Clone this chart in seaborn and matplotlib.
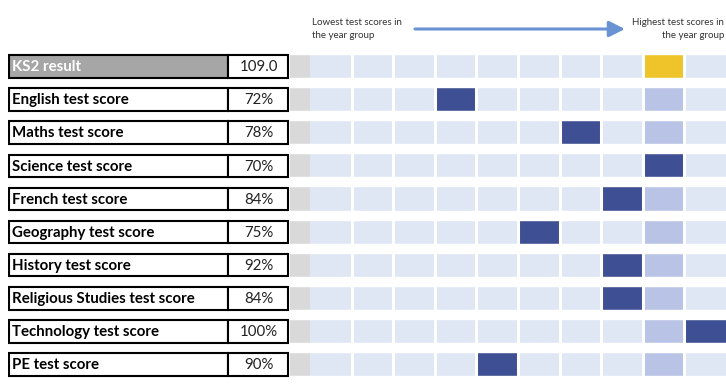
import numpy as np
import pandas as pd
import matplotlib
matplotlib.use('Agg')
import matplotlib.pyplot as plt
import seaborn as sns
from matplotlib.colors import ListedColormap
from matplotlib.patches import Rectangle

# Datos
etiquetas = ['KS2 result', 'English test score', 'Maths test score', 'Science test score',
             'French test score', 'Geography test score', 'History test score',
             'Religious Studies test score', 'Technology test score', 'PE test score']
valores = ['109.0', '72%', '78%', '70%', '84%', '75%', '92%', '84%', '100%', '90%']
posicion_ks2 = 8  # columna (0-9) de la banda KS2
posiciones_asignaturas = [3, 6, 8, 7, 5, 7, 7, 9, 4]
n_columnas = 10

sns.set_theme(style='white')
plt.rcParams['font.family'] = ['Lato', 'DejaVu Sans']

# Matriz: 0 = fondo, 1 = banda KS2, 2 = posición asignatura, 3 = KS2
matriz = np.zeros((len(etiquetas), n_columnas))
matriz[0, posicion_ks2] = 3
for i, p in enumerate(posiciones_asignaturas):
    matriz[i + 1, posicion_ks2] = 1
    matriz[i + 1, p] = 2
df = pd.DataFrame(matriz, index=etiquetas)

W, H = 726, 384
fig = plt.figure(figsize=(W / 100, H / 100), dpi=100)
y_top, y_bot = 50, 381

def ejes(x0, x1):
    return fig.add_axes([x0 / W, 1 - y_bot / H, (x1 - x0) / W, (y_bot - y_top) / H])

ax_tabla = ejes(8, 290)
ax_gris = ejes(290, 310)
ax = ejes(310, 726)

cmap = ListedColormap(['#dfe6f4', '#b9c3e6', '#3f4f93', '#efc42a'])
sns.heatmap(df, cmap=cmap, vmin=-0.5, vmax=3.5, cbar=False,
            xticklabels=False, yticklabels=False, ax=ax)
ax.vlines(range(1, n_columnas), 0, len(etiquetas), color='white', linewidth=2.2)
ax.hlines(range(0, len(etiquetas) + 1), 0, n_columnas, color='white', linewidth=7.5)

sns.heatmap(pd.DataFrame(np.ones((len(etiquetas), 1)), index=etiquetas),
            cmap=ListedColormap(['#d9d9d9']), cbar=False,
            xticklabels=False, yticklabels=False, ax=ax_gris)
ax_gris.hlines(range(0, len(etiquetas) + 1), 0, 1, color='white', linewidth=7.5)

# Tabla de la izquierda
ax_tabla.set_xlim(0, 282)
ax_tabla.set_ylim(len(etiquetas), 0)
ax_tabla.axis('off')
for i, (etq, val) in enumerate(zip(etiquetas, valores)):
    y0, alto = i + 0.16, 0.68
    relleno = '#a6a6a6' if i == 0 else 'white'
    ax_tabla.add_patch(Rectangle((1, y0), 219, alto, facecolor=relleno,
                                 edgecolor='black', linewidth=1.5))
    ax_tabla.add_patch(Rectangle((220, y0), 60, alto, facecolor='white',
                                 edgecolor='black', linewidth=1.5))
    ax_tabla.text(4, i + 0.52, etq, va='center', ha='left', fontsize=10.8,
                  fontweight='bold', color='white' if i == 0 else 'black')
    ax_tabla.text(251, i + 0.52, val, va='center', ha='center', fontsize=10.8,
                  color='#222222')

# Cabecera
fig.text(312 / W, 1 - 18 / H, 'Lowest test scores in\nthe year group', ha='left', va='top',
         fontsize=7, color='#333333', linespacing=1.6)
fig.text(724 / W, 1 - 18 / H, 'Highest test scores in\nthe year group', ha='right', va='top',
         fontsize=7, color='#333333', linespacing=1.6)
ax.annotate('', xy=(625, H - 29), xytext=(415, H - 29),
            xycoords='figure pixels', textcoords='figure pixels',
            arrowprops=dict(arrowstyle='-|>,head_length=0.8,head_width=0.4',
                            color='#6a93d4', lw=2.2, shrinkA=0, shrinkB=0),
            annotation_clip=False)

plt.savefig('out.png', dpi=100, facecolor='white')
plt.close()
